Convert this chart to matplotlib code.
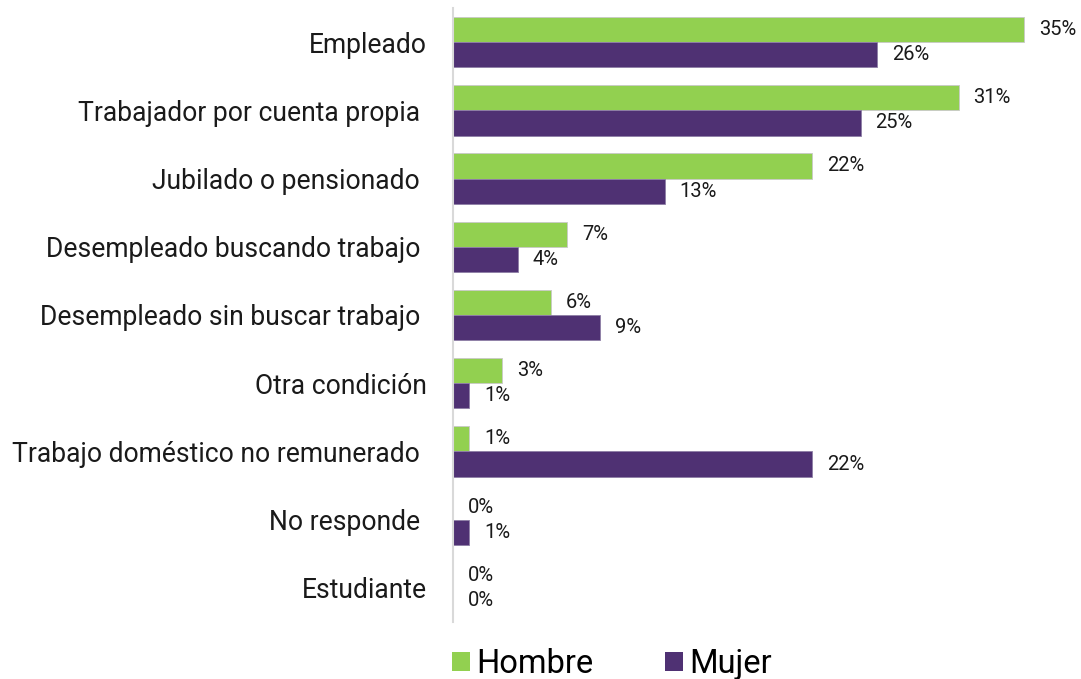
import matplotlib.pyplot as plt
from matplotlib.patches import Patch
import numpy as np

plt.rcParams['font.family'] = ['Roboto', 'DejaVu Sans']

categorias = ["Empleado", "Trabajador por cuenta propia ", "Jubilado o pensionado ",
              "Desempleado buscando trabajo ", "Desempleado sin buscar trabajo ",
              "Otra condición", "Trabajo doméstico no remunerado ", "No responde ",
              "Estudiante"]
hombre = [35, 31, 22, 7, 6, 3, 1, 0, 0]
mujer = [26, 25, 13, 4, 9, 1, 22, 1, 0]

verde = "#92d050"
morado = "#4f3173"

fig = plt.figure(figsize=(10.81, 6.79), dpi=100)
ax = fig.add_axes([453/1081, 1 - 622/679, 620/1081, 614/679])

y = np.arange(len(categorias))
h = 0.37
ax.barh(y - h/2, hombre, height=h, color=verde, edgecolor="#c8c8c8", linewidth=0.6)
ax.barh(y + h/2, mujer, height=h, color=morado, edgecolor="#8e7fa6", linewidth=0.6)

for yi, v in zip(y, hombre):
    ax.text(v + 0.9, yi - h/2, f"{v}%", va="center", ha="left", fontsize=14.5, color="#1a1a1a")
for yi, v in zip(y, mujer):
    ax.text(v + 0.9, yi + h/2, f"{v}%", va="center", ha="left", fontsize=14.5, color="#1a1a1a")

ax.set_ylim(len(categorias) - 0.5, -0.5)
ax.set_xlim(0, 38)
ax.set_yticks(y)
ax.set_yticklabels(categorias, fontsize=19.1, color="#1a1a1a")
ax.tick_params(axis="y", length=0, pad=19)
ax.set_xticks([])
for s in ["top", "right", "bottom"]:
    ax.spines[s].set_visible(False)
ax.spines["left"].set_color("#d9d9d9")
ax.spines["left"].set_linewidth(1.5)

handles = [Patch(facecolor=verde, label="Hombre"), Patch(facecolor=morado, label="Mujer")]
fig.legend(handles=handles, loc="center", bbox_to_anchor=(612/1081, 1 - 664/679), ncol=2,
           frameon=False, fontsize=23.5, handlelength=0.55, handleheight=0.55,
           handletextpad=0.2, columnspacing=2.2, borderpad=0)

fig.savefig("out.png", dpi=100)
